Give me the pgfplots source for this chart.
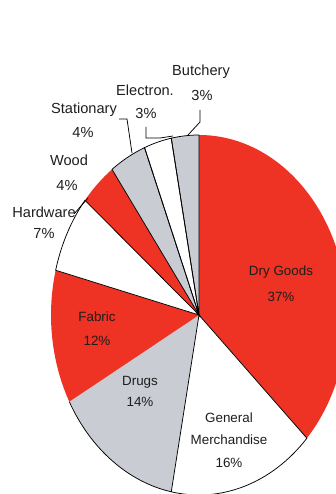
\documentclass[border=0pt]{standalone}
\usepackage{pgfplots}
\pgfplotsset{compat=1.18}
\usepackage{fontspec}
\setmainfont{Liberation Sans}
\definecolor{pred}{RGB}{238,50,36}
\definecolor{pgray}{RGB}{201,205,211}
\definecolor{ptext}{RGB}{30,30,30}
\begin{document}
\begin{tikzpicture}
\useasboundingbox (0,0) rectangle (336bp,494bp);
\clip (0,0) rectangle (336bp,494bp);
\begin{axis}[hide axis, scale only axis, width=296bp, height=360bp,
  xmin=-1, xmax=1, ymin=-1, ymax=1, at={(199bp,179bp)}, anchor=origin, clip=false]
\pgfplotsextra{
  % shares (%), clockwise from 12 o'clock
  \xdef\cum{0}
  \foreach \v/\c in {37/pred, 16/white, 14/pgray, 12/pred, 7/white, 4/pred, 4/pgray, 3/white, 3/pgray}{
    \pgfmathsetmacro\a{90-3.6*\cum}
    \pgfmathsetmacro\b{\a-3.6*\v}
    \fill[\c] (axis cs:0,0) -- (axis cs:{cos(\a)},{sin(\a)}) arc[start angle=\a, end angle=\b, x radius=148bp, y radius=180bp] -- cycle;
    \pgfmathsetmacro\n{\cum+\v}\xdef\cum{\n}
  }
  \xdef\cum{0}
  \foreach \v/\o in {37/0, 16/1, 14/2, 12/0, 7/1, 4/0, 4/1, 3/1, 3/1}{
    \pgfmathsetmacro\a{90-3.6*\cum}
    \pgfmathsetmacro\b{\a-3.6*\v}
    \ifnum\o=1
    \draw[black, line width=0.75pt] (axis cs:0,0) -- (axis cs:{cos(\a)},{sin(\a)}) arc[start angle=\a, end angle=\b, x radius=148bp, y radius=180bp] -- cycle;
    \fi
    \ifnum\o=2
    \draw[black, line width=0.75pt] (axis cs:{cos(\a)},{sin(\a)}) arc[start angle=\a, end angle=\b, x radius=148bp, y radius=180bp];
    \fi
    \pgfmathsetmacro\n{\cum+\v}\xdef\cum{\n}
  }
}
\end{axis}
\begin{scope}[shift={(0,494bp)}, x=1bp, y=-1bp]
  % leader lines
  \draw[black, line width=0.75pt] (200,110) -- (200,122) -- (188,135);
  \draw[black, line width=0.75pt] (146,127) -- (146,138) -- (160,138) -- (173,136);
  \draw[black, line width=0.75pt] (119,119) -- (127,119) -- (132,153);
  \draw[black, line width=0.75pt] (74,214) -- (88,198);
  % outer labels
  \tikzset{ol/.style={text=ptext, inner sep=0pt, font=\fontsize{14.6bp}{16bp}\selectfont},
           il/.style={text=ptext, inner sep=0pt, font=\fontsize{13.4bp}{15bp}\selectfont}}
  \node[ol] at (201,72) {Butchery};
  \node[ol] at (202,95) {3\%};
  \node[ol] at (145,90) {Electron.};
  \node[ol] at (146,113) {3\%};
  \node[ol] at (84,110) {Stationary};
  \node[ol] at (83,132) {4\%};
  \node[ol] at (69,160) {Wood};
  \node[ol] at (67,185) {4\%};
  \node[ol] at (44,212) {Hardware};
  \node[ol] at (44,233) {7\%};
  % inner labels
  \node[il] at (281,272) {Dry Goods};
  \node[il] at (281,297) {37\%};
  \node[il] at (97,317) {Fabric};
  \node[il] at (97,341) {12\%};
  \node[il] at (140,382) {Drugs};
  \node[il] at (140,402) {14\%};
  \node[il] at (229,418) {General};
  \node[il] at (229,440) {Merchandise};
  \node[il] at (229,463) {16\%};
\end{scope}
\end{tikzpicture}
\end{document}
